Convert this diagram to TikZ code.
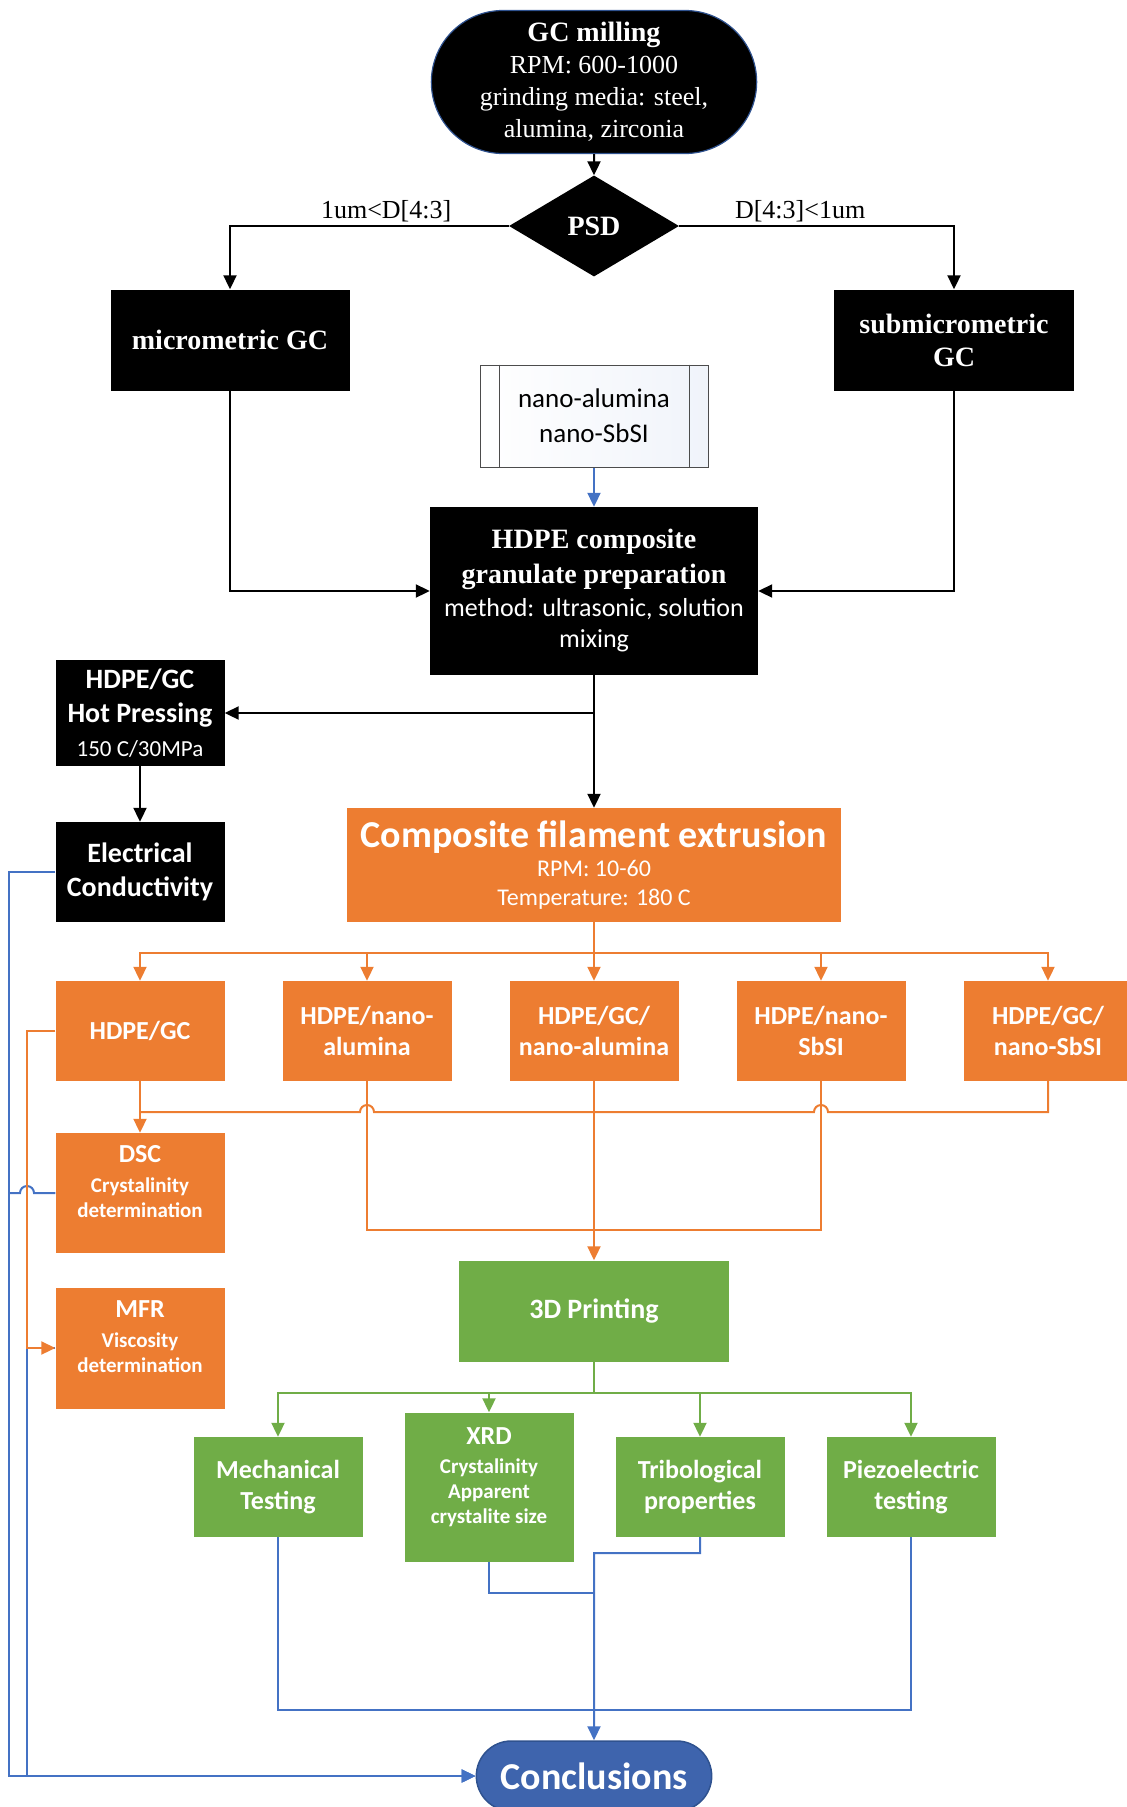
\documentclass[tikz,border=0pt]{standalone}
\usepackage{fontspec}
\setmainfont{Carlito}
\newfontfamily\tnr{Liberation Serif}
\usetikzlibrary{positioning,shapes.geometric,shapes.misc,arrows.meta}
\definecolor{offorange}{HTML}{ED7D31}
\definecolor{offgreen}{HTML}{70AD47}
\definecolor{offblue}{HTML}{4472C4}
\definecolor{concblue}{HTML}{3E64AD}
\definecolor{navy}{HTML}{2F528F}
\newcommand{\fsize}[2]{\fontsize{#1}{#2}\selectfont}
\tikzset{
  blk/.style={fill=black, text=white, align=center},
  obox/.style={rectangle, fill=offorange, text=white, align=center, font=\fsize{26}{31}\bfseries, minimum width=169pt, minimum height=100pt},
  gbox/.style={rectangle, fill=offgreen, text=white, align=center, font=\fsize{26}{31}\bfseries, minimum width=169pt, minimum height=100pt},
  kline/.style={draw=black, line width=2pt},
  oline/.style={draw=offorange, line width=2pt},
  gline/.style={draw=offgreen, line width=2pt},
  bline/.style={draw=offblue, line width=2pt},
}

\begin{document}
\begin{tikzpicture}[x=1pt, y=-1pt, node distance=150pt, on grid, >={Triangle[length=14pt,width=13pt]}]
  \useasboundingbox (0,0) rectangle (1127,1807);
  \node[blk, rounded rectangle, draw=navy, line width=1.2pt, minimum width=332pt, minimum height=143pt, font=\tnr\fsize{26}{32}] (gc) at (594,82) {{\bfseries\fsize{28}{32}GC milling}\\RPM: 600-1000\\grinding media: steel,\\alumina, zirconia};
  \node[blk, diamond, minimum width=170pt, minimum height=101pt, inner sep=0pt, aspect=1.7, font=\tnr\bfseries\fsize{28}{32}] (psd) [below=144pt of gc] {PSD};
  \node[blk, minimum width=239pt, minimum height=101pt, font=\tnr\bfseries\fsize{28}{33}] (micro) [below left=114pt and 364pt of psd] {micrometric GC};
  \node[blk, minimum width=240pt, minimum height=101pt, font=\tnr\bfseries\fsize{28}{33}] (submicro) [below right=114pt and 360pt of psd] {submicrometric\\GC};
  \node[draw=black!70, line width=1pt, left color=white, right color=offblue!8, minimum width=228pt, minimum height=102pt, align=center, font=\fsize{27}{35}] (nano) [below=190pt of psd] {nano-alumina\\nano-SbSI};
  \draw[black!70, line width=1pt] ([xshift=20pt]nano.north west) -- ([xshift=20pt]nano.south west) ([xshift=-19pt]nano.north east) -- ([xshift=-19pt]nano.south east);
  \node[blk, minimum width=328pt, minimum height=168pt, font=\fsize{26}{31}] (gran) [below=175pt of nano] {{\tnr\bfseries\fsize{28}{34}HDPE composite}\\[4pt]{\tnr\bfseries\fsize{28}{34}granulate preparation}\\[2pt]method: ultrasonic, solution\\mixing};
  \node[blk, minimum width=169pt, minimum height=106pt, font=\bfseries\fsize{28}{34}] (hot) [below left=122pt and 454pt of gran] {HDPE/GC\\Hot Pressing\\{\mdseries\fsize{23}{31}150 C/30MPa}};
  \node[blk, minimum width=169pt, minimum height=100pt, font=\bfseries\fsize{28}{34}] (elec) [below=159pt of hot] {Electrical\\Conductivity};
  \node[rectangle, fill=offorange, text=white, align=center, minimum width=494pt, minimum height=114pt, font=\fsize{24}{29}] (extr) [below=274pt of gran] {{\bfseries\fsize{38}{38}Composite filament extrusion}\\RPM: 10-60\\Temperature: 180 C};
  \node[obox] (f3) [below=166pt of extr] {HDPE/GC/\\nano-alumina};
  \node[obox] (f2) [left=227pt of f3] {HDPE/nano-\\alumina};
  \node[obox] (f1) [left=227pt of f2] {HDPE/GC};
  \node[obox] (f4) [right=227pt of f3] {HDPE/nano-\\SbSI};
  \node[obox] (f5) [right=227pt of f4] {HDPE/GC/\\nano-SbSI};
  \node[obox, minimum height=120pt] (dsc) [below=162pt of f1] {DSC\\[-1pt]{\fsize{21}{25}Crystalinity}\\[-6pt]{\fsize{21}{25}determination}\\[-8pt]\mbox{}};
  \node[obox, minimum height=121pt] (mfr) [below=155pt of dsc] {MFR\\[-1pt]{\fsize{21}{25}Viscosity}\\[-6pt]{\fsize{21}{25}determination}\\[-8pt]\mbox{}};
  \node[gbox, minimum width=270pt, minimum height=101pt, font=\bfseries\fsize{28}{31}] (print) [below=280pt of f3] {3D Printing};
  \node[gbox, minimum height=149pt] (xrd) [below left=176pt and 105pt of print] {XRD\\[-2pt]{\fsize{21}{25}Crystalinity}\\[-6pt]{\fsize{21}{25}Apparent}\\[-6pt]{\fsize{21}{25}crystalite size}\\[-8pt]\mbox{}};
  \node[gbox] (mech) [left=211pt of xrd] {Mechanical\\Testing};
  \node[gbox] (tribo) [right=211pt of xrd] {Tribological\\properties};
  \node[gbox] (piezo) [right=211pt of tribo] {Piezoelectric\\testing};
  \node[rounded rectangle, fill=concblue, draw=navy, line width=1.5pt, text=white, font=\bfseries\fsize{38}{40}, minimum width=242pt, minimum height=70pt] (concl) [below=465pt of print] {Conclusions};

  \coordinate (obus) at (594,953);
  \coordinate (jbus) at (140,1112);
  \coordinate (pbus) at (594,1230);
  \coordinate (gbus) at (594,1393);
  \coordinate (tj) at (594,1553);
  \coordinate (xj) at (594,1593);
  \coordinate (cbus) at (594,1710);
  \coordinate (lx) at (9,0);
  \coordinate (lx2) at (27,0);

  \draw[kline,->] (gc) -- (psd);
  \draw[kline,->] (psd.west) -| node[pos=0.22, above, font=\tnr\fsize{26}{30}] {1um<D[4:3]} (micro.north);
  \draw[kline,->] (psd.east) -| node[pos=0.22, above, font=\tnr\fsize{26}{30}] {D[4:3]<1um} (submicro.north);
  \draw[kline,->] (micro.south) |- (gran.west);
  \draw[kline,->] (submicro.south) |- (gran.east);
  \draw[bline,->] (nano) -- (gran);
  \draw[kline,->] (gran.south) |- (hot.east);
  \draw[kline,->] (gran) -- (extr);
  \draw[kline,->] (hot) -- (elec);

  \draw[bline,->] (elec.west) -| (lx |- concl.west) -- (concl.west);
  \draw[bline,->] (mfr.west) -| (lx2 |- concl.west) -- (concl.west);
  \draw[bline] (dsc.west) -- ([xshift=7pt]lx2 |- dsc.west) arc[start angle=0, end angle=180, radius=7pt] -- (lx |- dsc.west);

  \draw[oline,->] (extr) -- (f3);
  \foreach \n in {f1,f2,f4,f5}
    \draw[oline,->] (obus) -| (\n.north);
  \draw[oline,->] (f1) -- (dsc);
  \draw[oline] (f5.south) |- ([xshift=7pt]f4.south |- jbus) arc[start angle=0, end angle=180, radius=7pt] -- ([xshift=7pt]f2.south |- jbus) arc[start angle=0, end angle=180, radius=7pt] -- (jbus);
  \draw[oline] (f2.south) |- (pbus) -| (f4.south);
  \draw[oline,->] (f3) -- (print);
  \draw[oline,->] (f1.west) -| (lx2 |- mfr.west) -- (mfr.west);

  \draw[gline] (print) -- (gbus);
  \foreach \n in {mech,xrd,tribo,piezo}
    \draw[gline,->] (gbus) -| (\n.north);

  \draw[bline] (mech.south) |- (cbus) -| (piezo.south);
  \draw[bline] (xrd.south) |- (xj);
  \draw[bline,->] (tribo.south) |- (tj) -- (concl);
\end{tikzpicture}
\end{document}
